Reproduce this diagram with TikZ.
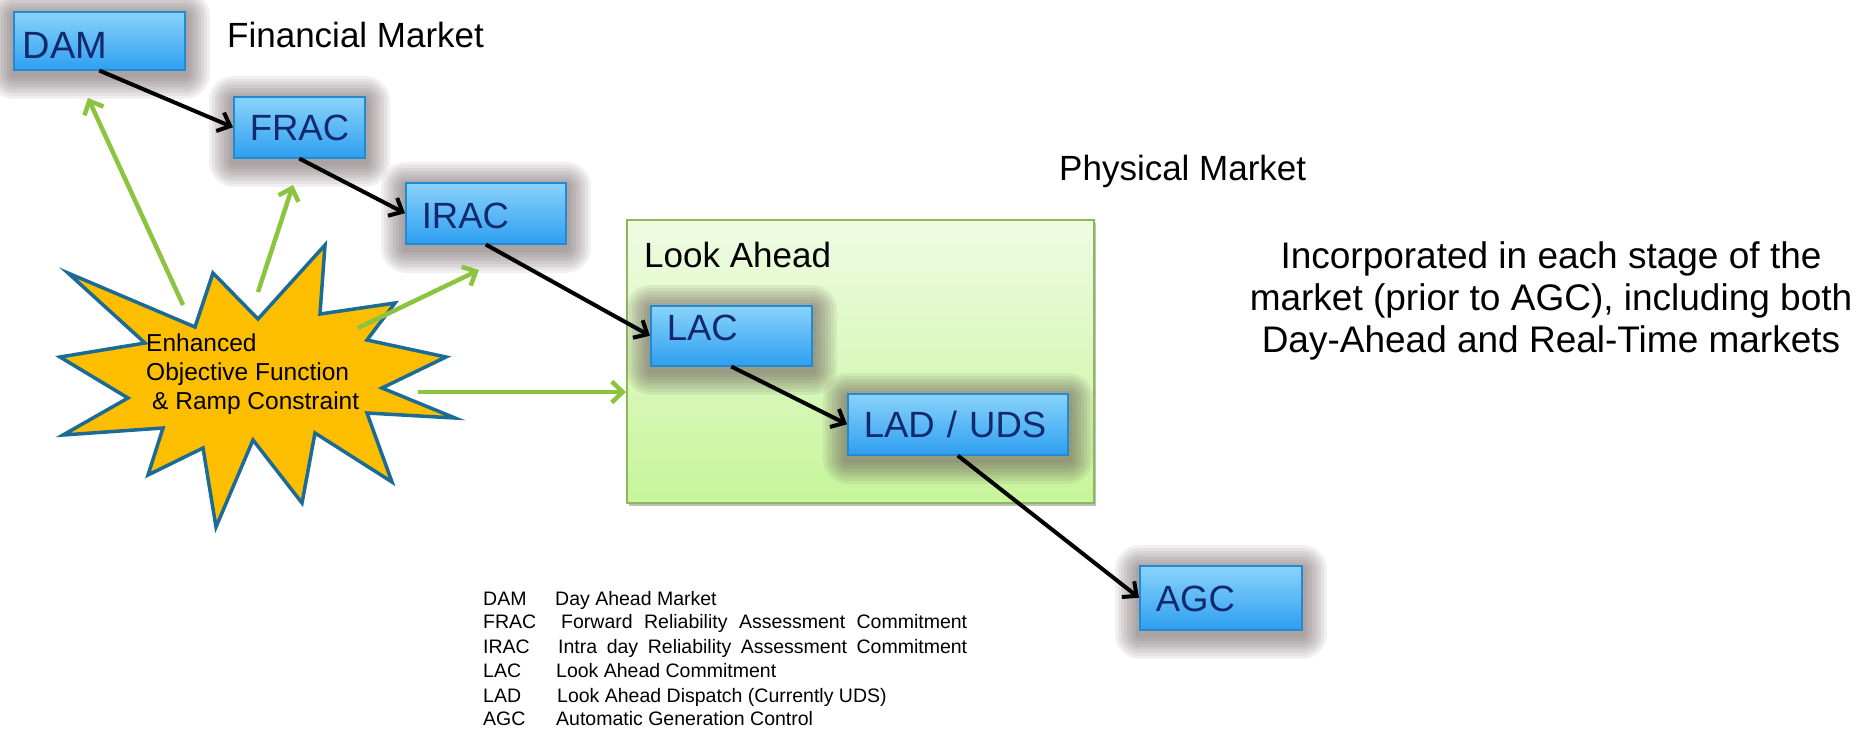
\documentclass[tikz,border=0pt]{standalone}
\usepackage{fontspec}
\setmainfont{Liberation Sans}
\usetikzlibrary{arrows.meta}
\definecolor{boxtop}{HTML}{8AD3FB}
\definecolor{boxbot}{HTML}{2E9FF0}
\definecolor{boxborder}{HTML}{2389D0}
\definecolor{boxtext}{HTML}{13296E}
\definecolor{glowc}{HTML}{5E4C50}
\definecolor{greentop}{HTML}{EFFBE3}
\definecolor{greenbot}{HTML}{C6F59A}
\definecolor{greenborder}{HTML}{8DB85A}
\definecolor{starfill}{HTML}{FDBE00}
\definecolor{starline}{HTML}{1A6B96}
\definecolor{arrowgreen}{HTML}{8CC43F}
\begin{document}
\begin{tikzpicture}[x=1pt,y=-1pt,
  gl/.style={preaction={draw=glowc,line width=#1,opacity=.085,line join=round,transform canvas={yshift=-4pt}}},
  glow/.style={gl=50pt,gl=44pt,gl=38pt,gl=32pt,gl=26pt,gl=20pt,gl=14pt,gl=8pt},
  mbox/.style={glow,draw=boxborder,line width=1.5pt,top color=boxtop,bottom color=boxbot,
    text=boxtext,inner xsep=16pt,inner ysep=0pt,align=left,anchor=north west,
    font=\fontsize{36.5}{40}\selectfont,text depth=0pt},
  greenbox/.style={draw=greenborder,line width=2pt,top color=greentop,bottom color=greenbot,
    anchor=north west,inner sep=0pt,
    preaction={fill=black,opacity=.25,transform canvas={xshift=2pt,yshift=-3pt}}},
  heading/.style={anchor=base west,inner sep=0pt,font=\fontsize{35}{40}\selectfont},
  legend/.style={anchor=base west,inner sep=0pt,font=\fontsize{19.5}{24}\selectfont},
  blk/.style={draw=black,line width=4pt,-{Straight Barb[length=11pt,width=20pt]}},
  grn/.style={draw=arrowgreen,line width=4.5pt,-{Straight Barb[length=11pt,width=21pt]}},
  starshape/.style={draw=starline,line width=3.5pt,fill=starfill,line join=miter}
]
\useasboundingbox (0,0) rectangle (1860,729);

% Look Ahead container
\node[greenbox,minimum width=467pt,minimum height=283pt] (la) at (626,219) {};
\node[heading] (latxt) at (644,267) {Look Ahead};

% market boxes
\node[mbox,inner xsep=9pt,text width=153pt,minimum height=58pt,text height=36pt,font=\fontsize{38}{40}\selectfont] (dam) at (13,11) {DAM};
\node[mbox,text width=99pt,minimum height=61pt,text height=27pt] (frac) at (233,96) {FRAC};
\node[mbox,text width=128pt,minimum height=61pt,text height=31pt] (irac) at (405,182) {IRAC};
\node[mbox,text width=129pt,minimum height=60pt,text height=26pt,text depth=16pt] (lac) at (650,305) {LAC};
\node[mbox,text width=188pt,minimum height=61pt,text height=26pt] (lad) at (847,393) {LAD / UDS};
\node[mbox,text width=130pt,minimum height=64pt,text height=28pt] (agc) at (1139,565) {AGC};

% headings
\node[heading] (fin) at (227,47) {Financial Market};
\node[heading] (phys) at (1059,180) {Physical Market};
\node[anchor=north,inner sep=0pt,align=center,font=\fontsize{37}{42}\selectfont] (inc) at (1551,241)
  {Incorporated in each stage of the\\market (prior to AGC), including both\\Day-Ahead and Real-Time markets};

% star
\draw[starshape] (68,273) -- (195,327) -- (213,273) -- (258,319) -- (325,245) -- (320,314)
  -- (395,303) -- (367,340) -- (446,357) -- (382,388) -- (455,418) -- (367,413)
  -- (392,482) -- (315,433) -- (302,503) -- (253,440) -- (216,527) -- (203,448)
  -- (148,475) -- (163,428) -- (63,435) -- (128,398) -- (60,357) -- (145,343) -- cycle;
\node[anchor=north west,inner sep=0pt,align=left,font=\fontsize{24.5}{29}\selectfont] (startxt) at (146,334)
  {Enhanced\\Objective Function\\\hspace*{6pt}\& Ramp Constraint};

% green arrows
\coordinate (g1s) at (183,305); \coordinate (g1e) at (88,98);
\coordinate (g2s) at (258,292); \coordinate (g2e) at (293,185);
\coordinate (g3s) at (358,328); \coordinate (g3e) at (479,270);
\coordinate (g4s) at (418,392);
\draw[grn] (g1s) -- (g1e);
\draw[grn] (g2s) -- (g2e);
\draw[grn] (g3s) -- (g3e);
\draw[grn] (g4s) -- (g4s -| la.west);

% black arrows
\draw[blk] (dam.south) -- (frac.west);
\draw[blk] (frac.south) -- (irac.west);
\draw[blk] (irac.south) -- (lac.west);
\draw[blk] (lac.south) -- (lad.west);
\draw[blk] (lad.south) -- (agc.west);

% legend
\node[legend] (l1) at (483,605) {\makebox[72pt][l]{DAM}Day Ahead Market};
\node[legend] (l2) at (483,628) {\makebox[78pt][l]{FRAC}\makebox[406pt][s]{Forward Reliability Assessment Commitment}};
\node[legend] (l3) at (483,653) {\makebox[75pt][l]{IRAC}\makebox[409pt][s]{Intra day Reliability Assessment Commitment}};
\node[legend] (l4) at (483,677) {\makebox[73pt][l]{LAC}Look Ahead Commitment};
\node[legend] (l5) at (483,702) {\makebox[74pt][l]{LAD}Look Ahead Dispatch (Currently UDS)};
\node[legend] (l6) at (483,725) {\makebox[73pt][l]{AGC}Automatic Generation Control};
\end{tikzpicture}
\end{document}
